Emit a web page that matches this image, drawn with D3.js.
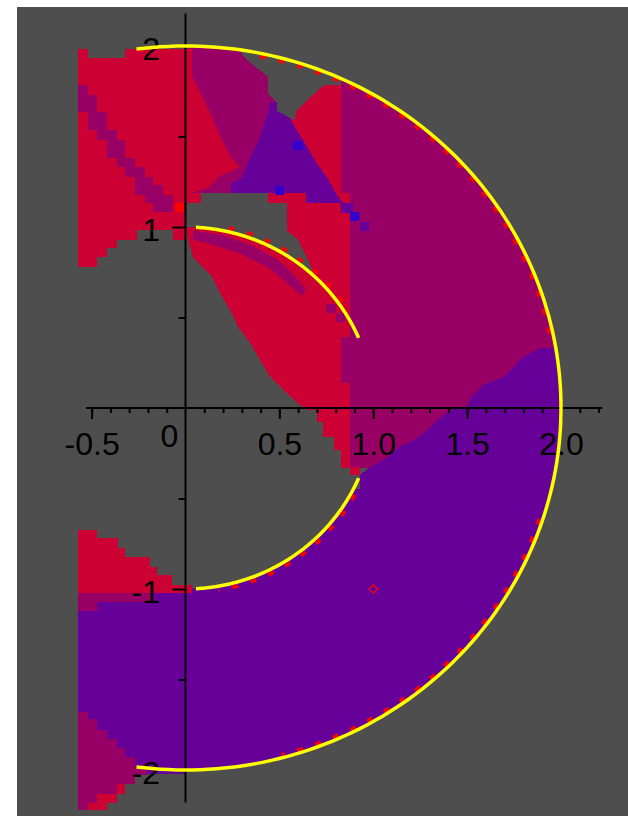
<!DOCTYPE html>
<meta charset="utf-8">
<style>
body { margin: 0; background: #ffffff; }
text { font-family: 'Liberation Sans Narrow', 'Liberation Sans', sans-serif; font-size: 32px; fill: #000; }
</style>
<div id="plot"></div>
<script src="https://d3js.org/d3.v7.min.js"></script>
<script>

// ---- data (plot units) ----

// boundary between the magenta and the purple zone on the right
var splitLine = [[1.97,0.33],[1.89,0.33],[1.79,0.276],[1.74,0.22],[1.69,0.17],[1.585,0.127],[1.53,0.07],[1.49,0.0],
  [1.41,-0.01],[1.34,-0.07],[1.29,-0.12],[1.23,-0.17],[1.14,-0.215],[1.08,-0.27],[0.98,-0.33]];

var purpleLow = [[2.1,0.33]].concat(splitLine, [[0.93,-0.37],[0.93,-0.45],[0,-0.45],[0,-1.022],[-0.575,-1.022],
  [-0.575,-1.8],[-0.269,-2.0],[-0.207,-2.0],[-0.207,-2.02],[0,-2.02],[0,-2.3],[2.1,-2.3]]);

var leftLowerRed = [[-0.575,-0.674],[-0.47,-0.674],[-0.47,-0.718],[-0.36,-0.718],[-0.36,-0.773],[-0.32,-0.773],
  [-0.32,-0.823],[-0.19,-0.823],[-0.19,-0.878],[-0.15,-0.878],[-0.15,-0.923],[-0.07,-0.923],[-0.07,-0.978],
  [0.033,-0.978],[0.033,-1.022],[-0.575,-1.022]];

var leftLowerStrip = [[-0.575,-1.022],[-0.17,-1.022],[-0.17,-1.07],[-0.47,-1.07],[-0.47,-1.12],[-0.575,-1.12]];

var leftLowerWedge = [[-0.575,-1.68],[-0.518,-1.68],[-0.518,-1.72],[-0.473,-1.72],[-0.473,-1.78],[-0.42,-1.78],
  [-0.42,-1.83],[-0.367,-1.83],[-0.367,-1.88],[-0.322,-1.88],[-0.322,-1.93],[-0.269,-1.93],[-0.269,-1.98],
  [-0.207,-1.98],[-0.207,-2.03],[-0.269,-2.03],[-0.269,-2.08],[-0.322,-2.08],[-0.322,-2.13],[-0.367,-2.13],
  [-0.367,-2.18],[-0.42,-2.18],[-0.42,-2.22],[-0.575,-2.22]];

var leftLowerRedBits = [[-0.518,-2.22],[-0.42,-2.22],[-0.42,-2.18],[-0.367,-2.18],[-0.367,-2.13],[-0.322,-2.13],
  [-0.322,-2.08],[-0.367,-2.08],[-0.367,-2.13],[-0.473,-2.13],[-0.473,-2.18],[-0.518,-2.18]];

var leftUpperRed = [[-0.575,1.982],[-0.518,1.982],[-0.518,1.934],[-0.322,1.934],[-0.322,1.982],[0,1.982],[0,0.928],
  [-0.067,0.928],[-0.067,0.983],[-0.26,0.983],[-0.26,0.928],[-0.367,0.928],[-0.367,0.884],[-0.42,0.884],
  [-0.42,0.834],[-0.473,0.834],[-0.473,0.779],[-0.575,0.779]];

var leftUpperBand = [[-0.575,1.785],[-0.518,1.785],[-0.518,1.729],[-0.473,1.729],[-0.473,1.637],[-0.42,1.637],
  [-0.42,1.536],[-0.367,1.536],[-0.367,1.48],[-0.322,1.48],[-0.322,1.38],[-0.269,1.38],[-0.269,1.333],
  [-0.216,1.333],[-0.216,1.278],[-0.171,1.278],[-0.171,1.232],[-0.118,1.232],[-0.118,1.177],[-0.065,1.177],
  [-0.065,1.085],[-0.171,1.085],[-0.171,1.131],[-0.216,1.131],[-0.216,1.177],[-0.269,1.177],[-0.269,1.278],
  [-0.322,1.278],[-0.322,1.333],[-0.367,1.333],[-0.367,1.38],[-0.42,1.38],[-0.42,1.48],[-0.473,1.48],
  [-0.473,1.536],[-0.518,1.536],[-0.518,1.637],[-0.575,1.637]];

var upperMagenta = [[0,1.13],[0,2.1],[0.83,2.1],[0.83,1.13]];

var magentaRight = [[0.83,2.1],[2.1,2.1],[2.1,0.33]].concat(splitLine, [[0.875,-0.33],[0.875,0.138],[0.83,0.138],
  [0.83,0.392],[0.875,0.392],[0.875,1.19],[0.83,1.19]]);

var redTop = [[0,1.982],[0.035,1.982],[0.035,1.83],[0.09,1.72],[0.14,1.61],[0.195,1.48],[0.24,1.39],[0.29,1.33],
  [0.18,1.28],[0.13,1.22],[0.04,1.19],[0,1.19]];

var redMid = [[0.56,1.62],[0.74,1.80],[0.83,1.80],[0.83,1.19],[0.875,1.19],[0.875,0.392],[0.83,0.392],[0.83,0.138],
  [0.875,0.138],[0.875,-0.326],[0.93,-0.326],[0.93,-0.37],[0.875,-0.37],[0.875,-0.33],[0.83,-0.33],[0.83,-0.23],
  [0.79,-0.23],[0.79,-0.16],[0.73,-0.16],[0.73,-0.08],[0.70,-0.08],[0.70,-0.01],[0.65,-0.01],[0.594,0.028],
  [0.54,0.083],[0.45,0.173],[0.397,0.265],[0.344,0.359],[0.28,0.449],[0.237,0.541],[0.184,0.635],[0.14,0.725],
  [0.09,0.779],[0.04,0.834],[0.013,0.93],[0.005,0.98],[0.005,1.19],[0.44,1.19],[0.44,1.5]];

var magentaArcStrip = [[0.04,0.98],[0.2,0.955],[0.35,0.9],[0.49,0.82],[0.59,0.72],[0.64,0.66],[0.62,0.62],
  [0.55,0.68],[0.45,0.77],[0.3,0.85],[0.15,0.9],[0.04,0.93]];

var purpleWedge = [[0.45,1.69],[0.49,1.69],[0.54,1.63],[0.59,1.54],[0.65,1.44],[0.70,1.35],[0.75,1.28],[0.80,1.19],
  [0.84,1.13],[0.64,1.13],[0.64,1.19],[0.24,1.19],[0.24,1.24],[0.30,1.27],[0.33,1.35],[0.39,1.48],[0.44,1.635]];

var purpleChain = [[0.83,1.13],[0.89,1.13],[0.89,1.08],[0.93,1.08],[0.93,1.03],[0.98,1.03],[0.98,0.98],[0.93,0.98],
  [0.93,1.04],[0.875,1.04],[0.875,1.08],[0.83,1.08]];

var grayWedge = [[0.27,2.1],[0.29,1.97],[0.33,1.92],[0.39,1.87],[0.44,1.83],[0.44,1.74],[0.49,1.685],[0.49,1.64],
  [0.58,1.59],[0.59,1.64],[0.64,1.69],[0.69,1.74],[0.74,1.785],[0.83,1.785],[0.83,2.1]];

var grayHole = [[0.005,1.13],[0.08,1.13],[0.08,1.19],[0.44,1.19],[0.44,1.13],[0.54,1.13],[0.54,0.98],[0.60,0.93],
  [0.66,0.80],[0.72,0.66],[0.3,0.5],[0.005,0.8]];

var blueCells = [[0.6,1.45],[0.5,1.2],[0.9,1.06]];
var magentaCells = [[0.775,0.55],[0.825,0.5]];
var hotCells = [[-0.0325,1.108]];

// yellow boundary arcs: radius, start and end angle (degrees)
var boundaryArcs = [[2,97.5,-97.5],[1,86.8,22.8],[1,-22.8,-86.8]];
// bright red speckles along the arcs
var fringeArcs = [[1.982,12,80],[1.022,35,80],[1.022,-28,-80],[1.982,-18,-75]];

var marker = [1,-1];

var xMinorTicks = [-0.5,-0.4,-0.3,-0.2,-0.1,0.1,0.2,0.3,0.4,0.5,0.6,0.7,0.8,0.9,1.0,1.1,1.2,1.3,1.4,1.5,1.6,1.7,1.8,1.9,2.0,2.1,2.2];
var xMajorTicks = [-0.5,0.5,1,1.5,2];
var xTickLabels = ["-0.5","0.5","1.0","1.5","2.0"];
var yMinorTicks = [-1.5,-0.5,0.5,1.5];
var yMajorTicks = [-2,-1,1,2];
var yTickLabels = ["-2","-1","1","2"];

// ---- drawing ----
var colors = {red:"#cc0033", magenta:"#990066", purple:"#660099", blue:"#3300cc",
  hot:"#ff0000", bg:"#4e4e4e", yellow:"#ffff00"};

var width = 628, height = 821;

var svg = d3.select("#plot")
  .append("svg")
    .attr("width", width)
    .attr("height", height);

var x = d3.scaleLinear().domain([0, 2]).range([185.5, 561]);
var y = d3.scaleLinear().domain([0, 2]).range([408, 46]);

var line = d3.line()
  .x(function(d) { return x(d[0]); })
  .y(function(d) { return y(d[1]); });

function arcPoints(r, a0, a1) {
  var n = 160;
  return d3.range(n + 1).map(function(i) {
    var a = (a0 + (a1 - a0) * i / n) * Math.PI / 180;
    return [r * Math.cos(a), r * Math.sin(a)];
  });
}

// grey plot background
svg.append("rect")
  .attr("x", 17).attr("y", 7)
  .attr("width", width - 17).attr("height", 809)
  .attr("fill", colors.bg);

var defs = svg.append("defs");

// the coloured domain: disc of radius 2 plus the strip left of the y axis
var clip = defs.append("clipPath").attr("id", "domain");
clip.append("ellipse")
  .attr("cx", x(0)).attr("cy", y(0))
  .attr("rx", x(2) - x(0)).attr("ry", y(0) - y(2));
clip.append("rect")
  .attr("x", x(-0.6)).attr("y", y(2.1))
  .attr("width", x(0) - x(-0.6)).attr("height", y(-2.3) - y(2.1));

// mask that hides everything inside the unit circle
var mask = defs.append("mask").attr("id", "outsideInner")
  .attr("maskUnits", "userSpaceOnUse")
  .attr("x", 0).attr("y", 0).attr("width", width).attr("height", height);
mask.append("rect").attr("width", width).attr("height", height).attr("fill", "white");
mask.append("ellipse")
  .attr("cx", x(0)).attr("cy", y(0))
  .attr("rx", x(1) - x(0)).attr("ry", y(0) - y(1))
  .attr("fill", "black");

var regions = [
  [purpleLow, colors.purple, true],
  [leftLowerRed, colors.red],
  [leftLowerStrip, colors.magenta],
  [leftLowerWedge, colors.magenta],
  [leftLowerRedBits, colors.red],
  [leftUpperRed, colors.red],
  [leftUpperBand, colors.magenta],
  [upperMagenta, colors.magenta],
  [magentaRight, colors.magenta],
  [redTop, colors.red],
  [redMid, colors.red],
  [magentaArcStrip, colors.magenta],
  [purpleWedge, colors.purple],
  [purpleChain, colors.purple],
  [grayWedge, colors.bg],
  [grayHole, colors.bg, true]
];

var field = svg.append("g").attr("clip-path", "url(#domain)");

field.selectAll("path.region")
  .data(regions)
  .enter()
  .append("path")
    .attr("class", "region")
    .attr("d", function(d) { return line(d[0]) + "Z"; })
    .attr("fill", function(d) { return d[1]; })
    .attr("mask", function(d) { return d[2] ? "url(#outsideInner)" : null; })
    .attr("shape-rendering", "crispEdges");

// single grid cells (0.05 x 0.05)
var cells = blueCells.map(function(c) { return [c, colors.blue]; })
  .concat(magentaCells.map(function(c) { return [c, colors.magenta]; }))
  .concat(hotCells.map(function(c) { return [c, colors.hot]; }));

field.selectAll("rect.cell")
  .data(cells)
  .enter()
  .append("rect")
    .attr("class", "cell")
    .attr("x", function(d) { return x(d[0][0] - 0.025); })
    .attr("y", function(d) { return y(d[0][1] + 0.025); })
    .attr("width", x(0.05) - x(0))
    .attr("height", y(0) - y(0.05))
    .attr("fill", function(d) { return d[1]; })
    .attr("shape-rendering", "crispEdges");

// red speckles along the curves
svg.selectAll("path.fringe")
  .data(fringeArcs)
  .enter()
  .append("path")
    .attr("class", "fringe")
    .attr("d", function(d) { return line(arcPoints(d[0], d[1], d[2])); })
    .attr("fill", "none")
    .attr("stroke", colors.hot)
    .attr("stroke-width", 3.5)
    .attr("stroke-dasharray", "6,13");

// axes
svg.append("line")
  .attr("x1", x(-0.53)).attr("x2", x(2.22))
  .attr("y1", y(0)).attr("y2", y(0))
  .attr("stroke", "black").attr("stroke-width", 2);
svg.append("line")
  .attr("x1", x(0)).attr("x2", x(0))
  .attr("y1", y(2.18)).attr("y2", y(-2.18))
  .attr("stroke", "black").attr("stroke-width", 2);

svg.append("g")
  .attr("transform", "translate(0," + y(0) + ")")
  .call(d3.axisBottom(x).tickValues(xMinorTicks).tickSize(5).tickFormat(""))
  .call(function(g) { g.select(".domain").remove(); })
  .selectAll("line").attr("stroke-width", 2);

var xMajor = svg.append("g")
  .attr("transform", "translate(0," + y(0) + ")")
  .call(d3.axisBottom(x).tickValues(xMajorTicks).tickSize(11).tickPadding(13)
    .tickFormat(function(d, i) { return xTickLabels[i]; }))
  .call(function(g) { g.select(".domain").remove(); });
xMajor.selectAll("line").attr("stroke-width", 2);

svg.append("text")
  .attr("x", x(0) - 16)
  .attr("y", y(0) + 39)
  .attr("text-anchor", "middle")
  .text("0");

svg.append("g")
  .attr("transform", "translate(" + x(0) + ",0)")
  .call(d3.axisLeft(y).tickValues(yMinorTicks).tickSize(7).tickFormat(""))
  .call(function(g) { g.select(".domain").remove(); })
  .selectAll("line").attr("stroke-width", 2);

var yMajor = svg.append("g")
  .attr("transform", "translate(" + x(0) + ",0)")
  .call(d3.axisLeft(y).tickValues(yMajorTicks).tickSize(13).tickPadding(12.5)
    .tickFormat(function(d, i) { return yTickLabels[i]; }))
  .call(function(g) { g.select(".domain").remove(); });
yMajor.selectAll("line").attr("stroke-width", 2);
yMajor.selectAll("text").attr("dy", "0.42em");

// yellow boundary curves
svg.selectAll("path.boundary")
  .data(boundaryArcs)
  .enter()
  .append("path")
    .attr("class", "boundary")
    .attr("d", function(d) { return line(arcPoints(d[0], d[1], d[2])); })
    .attr("fill", "none")
    .attr("stroke", colors.yellow)
    .attr("stroke-width", 3.5);

// small red marker
svg.append("path")
  .attr("d", d3.symbol().type(d3.symbolDiamond2).size(45))
  .attr("transform", "translate(" + x(marker[0]) + "," + y(marker[1]) + ")")
  .attr("fill", "none")
  .attr("stroke", colors.hot)
  .attr("stroke-width", 1.2);

</script>
